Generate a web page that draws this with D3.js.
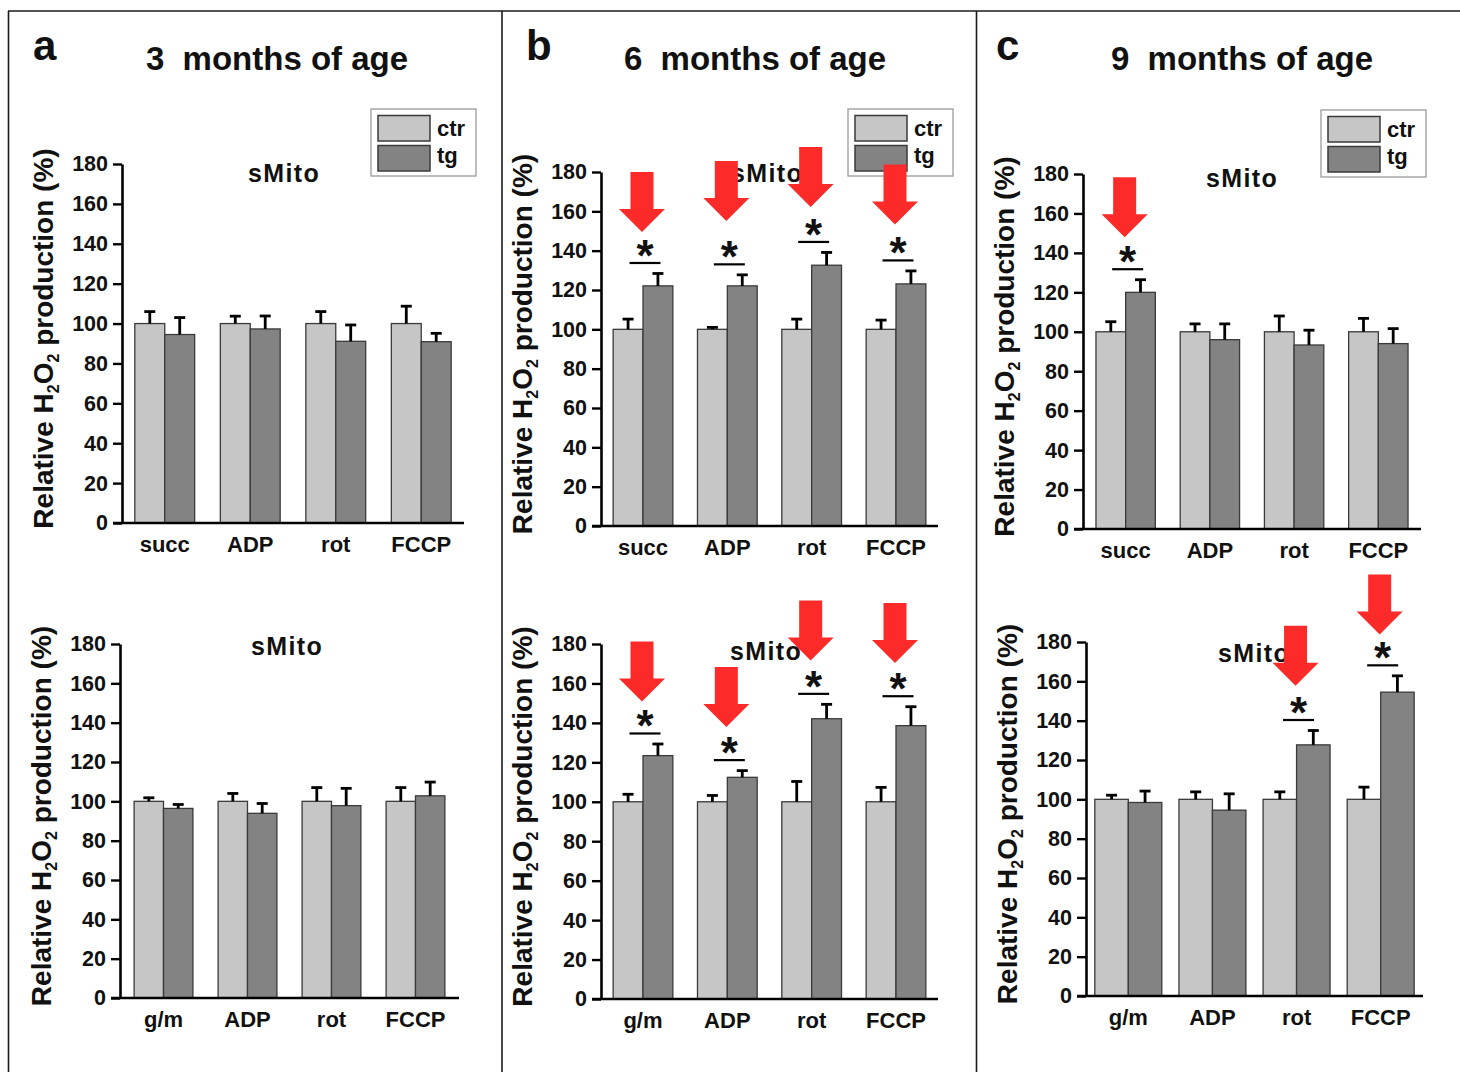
<!DOCTYPE html>
<html>
<head>
<meta charset="utf-8">
<script src="https://cdn.jsdelivr.net/npm/d3@7"></script>
<style>
  html, body { margin: 0; padding: 0; background: #ffffff; }
  svg { display: block; }
  text { font-family: "Liberation Sans", Arial, Helvetica, sans-serif; font-weight: bold; fill: #111; }
</style>
</head>
<body>
<svg id="chart" width="1460" height="1072"></svg>
<script>
// ---------------- DATA ----------------
const panelLetters = ['a', 'b', 'c'];
const ageTitles = ['3  months of age', '6  months of age', '9  months of age'];
const categoriesTop = ['succ', 'ADP', 'rot', 'FCCP'];
const categoriesBottom = ['g/m', 'ADP', 'rot', 'FCCP'];
const seriesNames = ['ctr', 'tg'];
const yTickValues = [0, 20, 40, 60, 80, 100, 120, 140, 160, 180];
const subplotTitle = 'sMito';

// 3 months, top (succ)
const ctr3Top    = [100, 100, 100, 100];
const ctr3TopErr = [6, 3.7, 6, 8.7];
const tg3Top     = [94.5, 97.3, 91.1, 90.9];
const tg3TopErr  = [8.5, 6.5, 8.2, 4.2];
// 3 months, bottom (g/m)
const ctr3Bot    = [100, 100, 100, 100];
const ctr3BotErr = [1.8, 4, 7, 7];
const tg3Bot     = [96.4, 93.9, 97.8, 102.8];
const tg3BotErr  = [2, 5, 8.8, 7];
// 6 months, top
const ctr6Top    = [100, 100, 100, 100];
const ctr6TopErr = [5.2, 1, 5.2, 4.7];
const tg6Top     = [122.1, 122.1, 132.6, 123.1];
const tg6TopErr  = [6.3, 5.6, 6.5, 6.6];
// 6 months, bottom
const ctr6Bot    = [100, 100, 100, 100];
const ctr6BotErr = [3.8, 3.2, 10.3, 7.3];
const tg6Bot     = [123.4, 112.4, 142.1, 138.6];
const tg6BotErr  = [5.9, 3.4, 7.3, 9.6];
// 9 months, top
const ctr9Top    = [100, 100, 100, 100];
const ctr9TopErr = [5.1, 4, 8, 6.8];
const tg9Top     = [120, 96, 93.3, 94];
const tg9TopErr  = [6.4, 8, 7.5, 7.6];
// 9 months, bottom
const ctr9Bot    = [100, 100, 100, 100];
const ctr9BotErr = [2.1, 3.8, 3.8, 6.2];
const tg9Bot     = [98.4, 94.5, 127.7, 154.5];
const tg9BotErr  = [5.8, 8.3, 7.3, 8.3];

// significant categories (index) and red-arrow tip values (in % units)
const sig3Top = [], sig3Bot = [];
const sig6Top = [0, 1, 2, 3], arrow6Top = [149.5, 155.1, 162.2, 153.3];
const sig6Bot = [0, 1, 2, 3], arrow6Bot = [150.9, 137.9, 171.6, 170.4];
const sig9Top = [0],          arrow9Top = [147.9];
const sig9Bot = [2, 3],       arrow9Bot = [157.7, 183.8];

// ---------------- LAYOUT ----------------
const colors = { ctr: '#c6c6c6', tg: '#838383' };
const panels = [
  { col: 0, cats: categoriesTop, ctr: ctr3Top, ctrErr: ctr3TopErr, tg: tg3Top, tgErr: tg3TopErr, sig: sig3Top, arrows: [],
    x0: 122, x1: 464, yB: 523, yT: 164, pi: 0.30, po: 0.15, legend: [371, 109], smX: 248, smY: 182 },
  { col: 0, cats: categoriesBottom, ctr: ctr3Bot, ctrErr: ctr3BotErr, tg: tg3Bot, tgErr: tg3BotErr, sig: sig3Bot, arrows: [],
    x0: 120, x1: 459, yB: 998, yT: 644, pi: 0.30, po: 0.168, legend: null, smX: 251, smY: 655 },
  { col: 1, cats: categoriesTop, ctr: ctr6Top, ctrErr: ctr6TopErr, tg: tg6Top, tgErr: tg6TopErr, sig: sig6Top, arrows: arrow6Top,
    x0: 601, x1: 938, yB: 526, yT: 172, pi: 0.292, po: 0.144, legend: [848, 109], smX: 731, smY: 182 },
  { col: 1, cats: categoriesBottom, ctr: ctr6Bot, ctrErr: ctr6BotErr, tg: tg6Bot, tgErr: tg6BotErr, sig: sig6Bot, arrows: arrow6Bot,
    x0: 601, x1: 938, yB: 999, yT: 644, pi: 0.292, po: 0.144, legend: null, smX: 730, smY: 660 },
  { col: 2, cats: categoriesTop, ctr: ctr9Top, ctrErr: ctr9TopErr, tg: tg9Top, tgErr: tg9TopErr, sig: sig9Top, arrows: arrow9Top,
    x0: 1083, x1: 1421, yB: 529, yT: 174, pi: 0.295, po: 0.154, legend: [1321, 110], smX: 1206, smY: 187 },
  { col: 2, cats: categoriesBottom, ctr: ctr9Bot, ctrErr: ctr9BotErr, tg: tg9Bot, tgErr: tg9BotErr, sig: sig9Bot, arrows: arrow9Bot,
    x0: 1086, x1: 1423, yB: 996, yT: 642, pi: 0.204, po: 0.105, legend: null, smX: 1218, smY: 662 }
];
const letterPos = [[33, 60], [526, 60], [996, 60]];
const titleCenters = [277, 755, 1242];

const svg = d3.select('#chart');

// ---------------- FRAME ----------------
const frame = svg.append('g').attr('stroke', '#1a1a1a').attr('stroke-width', 1.6);
frame.append('line').attr('x1', 8).attr('x2', 1460).attr('y1', 11).attr('y2', 11);
frame.append('line').attr('x1', 8.5).attr('x2', 8.5).attr('y1', 11).attr('y2', 1072);
frame.append('line').attr('x1', 502).attr('x2', 502).attr('y1', 11).attr('y2', 1072);
frame.append('line').attr('x1', 976.5).attr('x2', 976.5).attr('y1', 11).attr('y2', 1072);

// Letters and titles
panelLetters.forEach((l, i) => {
  svg.append('text').attr('x', letterPos[i][0]).attr('y', letterPos[i][1])
    .attr('font-size', 42).text(l);
  svg.append('text').attr('x', titleCenters[i]).attr('y', 70)
    .attr('text-anchor', 'middle').attr('font-size', 33).attr('xml:space', 'preserve')
    .style('white-space', 'pre').text(ageTitles[i]);
});

// ---------------- PANELS ----------------
const arrowLayer = [];
panels.forEach(p => {
  const g = svg.append('g');
  const x = d3.scaleBand().domain(p.cats).range([p.x0, p.x1]).paddingInner(p.pi).paddingOuter(p.po);
  const xs = d3.scaleBand().domain(seriesNames).range([0, x.bandwidth()]).padding(0);
  const y = d3.scaleLinear().domain([0, 180]).range([p.yB, p.yT]);

  const rows = p.cats.map((c, i) => ({
    cat: c, i,
    vals: [
      { s: 'ctr', v: p.ctr[i], e: p.ctrErr[i] },
      { s: 'tg', v: p.tg[i], e: p.tgErr[i] }
    ]
  }));

  const grp = g.selectAll('g.grp').data(rows).enter().append('g')
    .attr('transform', d => `translate(${x(d.cat)},0)`);
  grp.selectAll('rect').data(d => d.vals).enter().append('rect')
    .attr('x', d => xs(d.s)).attr('width', xs.bandwidth())
    .attr('y', d => y(d.v)).attr('height', d => y(0) - y(d.v))
    .attr('fill', d => colors[d.s]).attr('stroke', '#3a3a3a').attr('stroke-width', 1.3);
  // error bars (upper only)
  const eb = grp.selectAll('g.eb').data(d => d.vals).enter().append('g')
    .attr('stroke', '#000').attr('stroke-width', 2.8);
  eb.append('line')
    .attr('x1', d => xs(d.s) + xs.bandwidth() / 2).attr('x2', d => xs(d.s) + xs.bandwidth() / 2)
    .attr('y1', d => y(d.v)).attr('y2', d => y(d.v + d.e));
  eb.append('line')
    .attr('x1', d => xs(d.s) + xs.bandwidth() / 2 - 5.5).attr('x2', d => xs(d.s) + xs.bandwidth() / 2 + 5.5)
    .attr('y1', d => y(d.v + d.e)).attr('y2', d => y(d.v + d.e));

  // y axis
  const yAxis = d3.axisLeft(y).tickValues(yTickValues).tickSize(9).tickPadding(5).tickSizeOuter(0);
  const ya = g.append('g').attr('transform', `translate(${p.x0},0)`).call(yAxis);
  ya.select('.domain').attr('stroke', '#000').attr('stroke-width', 2.6);
  ya.selectAll('.tick line').attr('stroke', '#000').attr('stroke-width', 2.4);
  ya.selectAll('.tick text').attr('font-size', 21.5).attr('font-family', '"Liberation Sans", Arial, sans-serif')
    .attr('font-weight', 'bold').attr('fill', '#111');
  // x axis
  const xAxis = d3.axisBottom(x).tickSize(0).tickPadding(12).tickSizeOuter(0);
  const xa = g.append('g').attr('transform', `translate(0,${p.yB})`).call(xAxis);
  xa.select('.domain').remove();
  xa.append('line').attr('x1', p.x0 - 9).attr('x2', p.x1).attr('y1', 0).attr('y2', 0)
    .attr('stroke', '#000').attr('stroke-width', 2.6);
  xa.selectAll('.tick text').attr('font-size', 22).attr('font-family', '"Liberation Sans", Arial, sans-serif')
    .attr('font-weight', 'bold').attr('fill', '#111').attr('dy', '0.75em');

  // y label
  const yl = g.append('text')
    .attr('transform', `translate(${p.x0 - 69},${(p.yB + p.yT) / 2 - 5}) rotate(-90)`)
    .attr('text-anchor', 'middle').attr('font-size', 28);
  yl.append('tspan').text('Relative H');
  yl.append('tspan').attr('font-size', 16).attr('dy', 6).text('2');
  yl.append('tspan').attr('dy', -6).text('O');
  yl.append('tspan').attr('font-size', 16).attr('dy', 6).text('2');
  yl.append('tspan').attr('dy', -6).text(' production (%)');

  // subplot title
  g.append('text').attr('x', p.smX).attr('y', p.smY).attr('font-size', 25)
    .attr('letter-spacing', 1.4).text(subplotTitle);

  // significance markers
  p.sig.forEach(i => {
    const c = p.cats[i];
    const cx = x(c) + x.bandwidth() / 2 + 2;
    const ly = y(p.tg[i] + p.tgErr[i]) - 10.5;
    g.append('line').attr('x1', cx - 15.5).attr('x2', cx + 15.5).attr('y1', ly).attr('y2', ly)
      .attr('stroke', '#000').attr('stroke-width', 2.2);
    g.append('text').attr('x', cx).attr('y', ly + 8).attr('text-anchor', 'middle')
      .attr('font-size', 44).text('*');
  });

  // arrows (drawn later, on top)
  p.arrows.forEach((tipVal, k) => {
    const c = p.cats[p.sig[k]];
    arrowLayer.push({ tx: x(c) + x.bandwidth() / 2 - 1, ty: y(tipVal) });
  });

  // legend
  if (p.legend) {
    const lg = svg.append('g').attr('transform', `translate(${p.legend[0]},${p.legend[1]})`);
    lg.append('rect').attr('width', 105).attr('height', 67).attr('fill', '#fff')
      .attr('stroke', '#9a9a9a').attr('stroke-width', 1.3);
    seriesNames.forEach((s, j) => {
      lg.append('rect').attr('x', 7).attr('y', 6.5 + j * 30).attr('width', 52).attr('height', 25.5)
        .attr('fill', colors[s]).attr('stroke', '#3a3a3a').attr('stroke-width', 1.5);
      lg.append('text').attr('x', 66).attr('y', 27 + j * 27).attr('font-size', 22).text(s);
    });
  }
});

// red arrows
const arrowPath = d => {
  const sw = 11.5, hw = 23, hl = 23, len = 60;
  const { tx, ty } = d;
  return `M${tx - sw},${ty - len} L${tx + sw},${ty - len} L${tx + sw},${ty - hl} L${tx + hw},${ty - hl}
          L${tx},${ty} L${tx - hw},${ty - hl} L${tx - sw},${ty - hl} Z`;
};
svg.append('g').selectAll('path').data(arrowLayer).enter().append('path')
  .attr('d', arrowPath).attr('fill', '#fd2a2a');
</script>
</body>
</html>
